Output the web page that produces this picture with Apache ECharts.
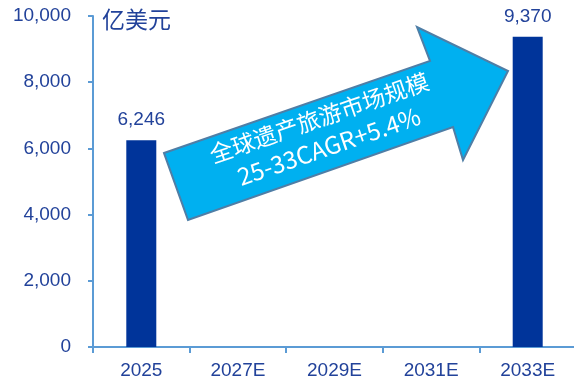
<!DOCTYPE html>
<html>
<head>
<meta charset="utf-8">
<script src="https://cdn.jsdelivr.net/npm/echarts@6/dist/echarts.min.js"></script>
<style>
  html, body { margin: 0; padding: 0; background: #fff; }
  #chart { width: 574px; height: 388px; }
</style>
</head>
<body>
<div id="chart"></div>
<script>
// Global heritage tourism market size (100 million USD)
const years = ['2025', '2027E', '2029E', '2031E', '2033E'];
const marketSize = [6246, null, null, null, 9370];
const unitLabel = '亿美元';
const arrowTitle = '全球遗产旅游市场规模';
const arrowCagr = '25-33CAGR+5.4%';

const axisBlue = '#5b9bd5';
const textBlue = '#22429a';
const barBlue = '#00349a';
const latinFont = '"Liberation Sans", Arial, sans-serif';
const cjkFont = '"Noto Sans CJK SC", "Noto Sans", sans-serif';

const chart = echarts.init(document.getElementById('chart'), null, { renderer: 'canvas' });

// Growth arrow outline (pixel positions in the 574x388 canvas)
const arrowPoints = [
  [164, 153], [430, 61], [417, 27], [508, 71], [463, 160], [453, 127], [188, 220]
];

chart.setOption({
  animation: false,
  backgroundColor: '#ffffff',
  grid: {
    left: 93, right: -2, top: 16, bottom: 41,
    containLabel: false,
    outerBoundsMode: 'none'
  },
  xAxis: {
    type: 'category',
    data: years,
    boundaryGap: true,
    axisLine: { show: true, lineStyle: { color: axisBlue, width: 2 } },
    axisTick: { show: true, length: 6, lineStyle: { color: axisBlue, width: 2 } },
    axisLabel: {
      color: textBlue, fontSize: 19, fontFamily: latinFont, margin: 14
    },
    splitLine: { show: false }
  },
  yAxis: {
    type: 'value',
    min: 0, max: 10000, interval: 2000,
    axisLine: { show: true, lineStyle: { color: axisBlue, width: 2 } },
    axisTick: { show: true, length: 5, lineStyle: { color: axisBlue, width: 2 } },
    axisLabel: {
      color: textBlue, fontSize: 19, fontFamily: latinFont, margin: 22,
      formatter: v => v.toLocaleString('en-US')
    },
    splitLine: { show: false }
  },
  series: [{
    type: 'bar',
    data: marketSize.map(v => (v == null ? '-' : v)),
    barWidth: 30,
    itemStyle: { color: barBlue },
    label: {
      show: true,
      position: 'top',
      distance: 11,
      color: textBlue,
      fontSize: 19,
      fontFamily: latinFont,
      formatter: p => Number(p.value).toLocaleString('en-US')
    }
  }],
  graphic: [
    {
      type: 'text',
      left: 102, top: 8,
      style: { text: unitLabel, fill: textBlue, font: '23px ' + cjkFont }
    },
    {
      type: 'polygon',
      shape: { points: arrowPoints },
      style: { fill: '#00b0f0', stroke: '#4f7ea6', lineWidth: 2 },
      z: 10
    },
    {
      type: 'text',
      x: 324, y: 132,
      rotation: 19 * Math.PI / 180,
      style: {
        text: '{t|' + arrowTitle + '}\n{c|' + arrowCagr + '}',
        fill: '#ffffff',
        align: 'center',
        verticalAlign: 'middle',
        rich: {
          t: { fill: '#ffffff', fontSize: 23, fontFamily: cjkFont, lineHeight: 30 },
          c: { fill: '#ffffff', fontSize: 24, fontFamily: cjkFont, lineHeight: 30 }
        }
      },
      z: 11
    }
  ]
});
</script>
</body>
</html>
